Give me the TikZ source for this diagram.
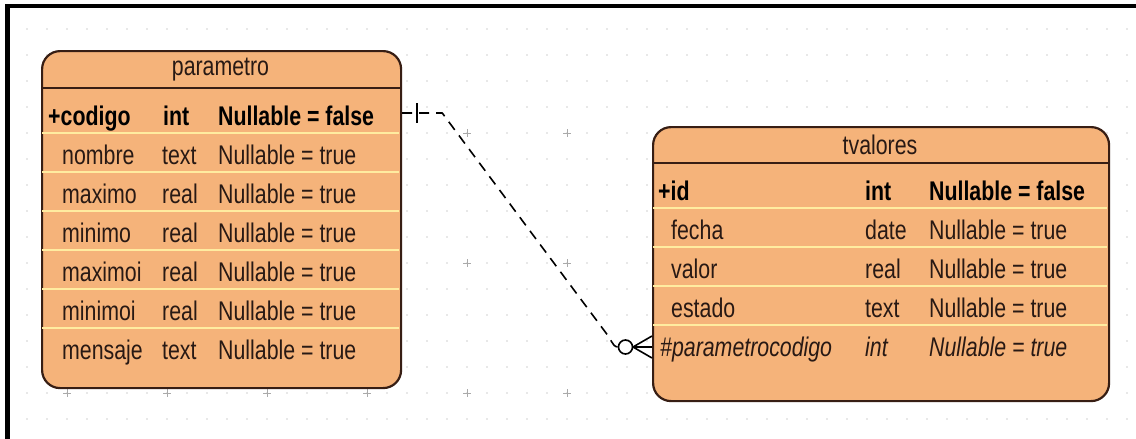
\documentclass[tikz,border=0pt]{standalone}
\usepackage{fontspec}
\setmainfont{Liberation Sans}[FakeStretch=0.79]
\usetikzlibrary{calc}
\definecolor{entfill}{RGB}{245,179,122}
\definecolor{entline}{RGB}{55,30,20}
\definecolor{rowsep}{RGB}{255,236,160}
\definecolor{griddot}{RGB}{210,210,210}
\definecolor{gridplus}{RGB}{170,170,170}
\definecolor{ink}{RGB}{40,25,20}
\begin{document}
\begin{tikzpicture}[x=1pt,y=-1pt,
  entity/.style={draw=entline, fill=entfill, line width=2.2pt, rounded corners=18pt,
                 anchor=north west, inner sep=0pt},
  title/.style={font=\fontsize{27}{32}\selectfont, text=ink, anchor=center, inner sep=0pt},
  cell/.style={font=\fontsize{27}{32}\selectfont, text=ink, anchor=base west, inner sep=0pt},
  keycell/.style={cell, font=\fontsize{27}{32}\selectfont\bfseries, text=black},
  fkcell/.style={cell, font=\fontsize{27}{32}\selectfont\itshape},
  sepline/.style={draw=rowsep, line width=2pt},
  headline/.style={draw=entline, line width=1.6pt},
  rel/.style={draw=black, line width=1.6pt},
]
% canvas
\fill[white] (0,0) rectangle (1136,439);
\useasboundingbox (0,0) rectangle (1136,439);
\fill[black] (5,4) rectangle (1136,8);
\fill[black] (5,4) rectangle (10,439);

% drawing grid
\foreach \gx in {27,47,...,1127}
  \foreach \gy in {29,55,...,419}
    \fill[griddot] (\gx,\gy) circle (0.9pt);
\foreach \gx in {67,167,...,1067}
  \foreach \gy in {133,263,393}
    \draw[gridplus, line width=0.6pt] (\gx-4,\gy) -- (\gx+4,\gy) (\gx,\gy-4) -- (\gx,\gy+4);

% ---------- table parametro ----------
\node[entity, minimum width=359pt, minimum height=337pt] (parametro) at (41,50) {};
\draw[headline] (41,88) -- (400,88);
\foreach \sy in {133,172,211,250,289,328}
  \draw[sepline] (42,\sy) -- (399,\sy);
\node[title] (parametro-t) at (220.5,70) {parametro};

\node[keycell] (p-codigo)   at (48,125) {+codigo};
\node[keycell] (p-codigo-t) at (163,125) {int};
\node[keycell] (p-codigo-n) at (218,125) {Nullable = false};

\foreach \nm/\ty/\by in {nombre/text/164, maximo/real/203, minimo/real/242,
                          maximoi/real/281, minimoi/real/320, mensaje/text/359}{
  \node[cell] (p-\nm)   at (62,\by)  {\nm};
  \node[cell] (p-\nm-t) at (162,\by) {\ty};
  \node[cell] (p-\nm-n) at (218,\by) {Nullable = true};
}

% ---------- table tvalores ----------
\node[entity, minimum width=456pt, minimum height=274pt] (tvalores) at (652,126) {};
\draw[headline] (652,163) -- (1108,163);
\foreach \sy in {208,247,286,325}
  \draw[sepline] (653,\sy) -- (1107,\sy);
\node[title] (tvalores-t) at (880,145) {tvalores};

\node[keycell] (t-id)   at (658,200) {+id};
\node[keycell] (t-id-t) at (865,200) {int};
\node[keycell] (t-id-n) at (929,200) {Nullable = false};

\foreach \nm/\ty/\by in {fecha/date/239, valor/real/278, estado/text/317}{
  \node[cell] (t-\nm)   at (671,\by) {\nm};
  \node[cell] (t-\nm-t) at (865,\by) {\ty};
  \node[cell] (t-\nm-n) at (929,\by) {Nullable = true};
}
\node[fkcell] (t-fk)   at (660,356) {\#parametrocodigo};
\node[fkcell] (t-fk-t) at (865,356) {int};
\node[fkcell] (t-fk-n) at (929,356) {Nullable = true};

% ---------- relationship parametro 1 -- 0..* tvalores ----------
\path (parametro.north east) ++(0,63) coordinate (pk);
\path (tvalores.north west) ++(0,221) coordinate (fk);

\draw[rel, dash pattern=on 10pt off 7pt, line join=round]
  (pk) -- ++(40,0) -- ($(fk)+(-46,-14)$) to[out=-40,in=180] ($(fk)+(-33.5,0)$);
% one (mandatory) end
\draw[rel] ($(pk)+(15,-10)$) -- ($(pk)+(15,10)$);
% zero-or-many end
\draw[rel] ($(fk)+(-26.5,0)$) circle (7pt);
\draw[rel] ($(fk)+(-19,0)$) -- (fk)
           ($(fk)+(-19,0)$) -- ($(fk)+(0,-11)$)
           ($(fk)+(-19,0)$) -- ($(fk)+(0,11)$);
\end{tikzpicture}
\end{document}
